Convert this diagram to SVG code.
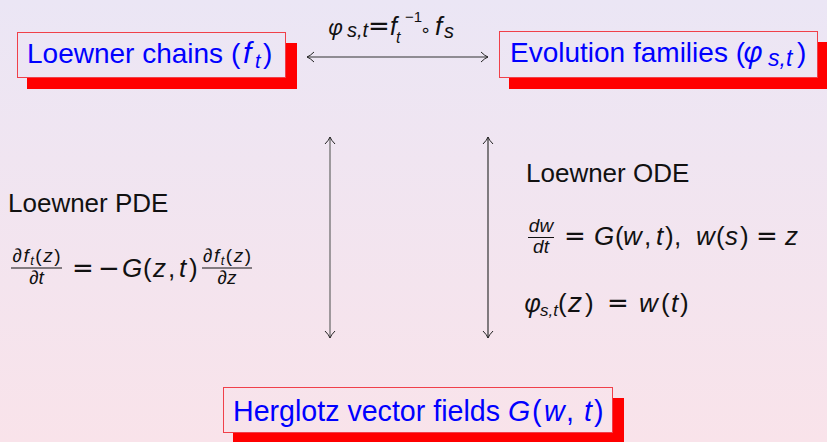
<svg xmlns="http://www.w3.org/2000/svg" width="827" height="442" viewBox="0 0 827 442">
<defs>
<linearGradient id="bg" x1="0" y1="0" x2="0" y2="442" gradientUnits="userSpaceOnUse">
<stop offset="0" stop-color="#EBE6F5"/>
<stop offset="1" stop-color="#F9E3EA"/>
</linearGradient>
<marker id="ah" viewBox="-8 -6 9 12" refX="0" refY="0" markerWidth="9" markerHeight="12" markerUnits="userSpaceOnUse" orient="auto-start-reverse">
<path d="M-7,-5 Q-3,-1 0,0 Q-3,1 -7,5" fill="none" stroke="#222" stroke-width="1"/>
</marker>
<style>
text { font-family: "Liberation Sans", "DejaVu Sans", sans-serif; fill: #111; }
.i { font-style: italic; }
.g { font-family: "Noto Sans", "DejaVu Sans", sans-serif; font-style: italic; }
.op { font-family: "DejaVu Sans", sans-serif; }
.blue { fill: #0000FF; }
.shadow { fill: #FF0000; }
.box { fill: url(#bg); stroke: #F0404A; stroke-width: 1; }
.conn { stroke: #333; stroke-width: 1.2; fill: none; marker-start: url(#ah); marker-end: url(#ah); }
.bar { stroke: #111; stroke-width: 1; }
</style>
</defs>
<rect x="0" y="0" width="827" height="442" fill="url(#bg)"/>

<g id="connectors">
<line class="conn" x1="307" y1="57" x2="488" y2="57"/>
<line class="conn" x1="330" y1="137" x2="330" y2="338" style="stroke:#666"/>
<line class="conn" x1="488" y1="137" x2="488" y2="338"/>
<g id="arrow-label">
<text x="328" y="35" class="g" font-size="22">φ</text>
<text x="347" y="37" class="i" font-size="20">s,t</text>
<text x="368" y="35" class="op" font-size="26">=</text>
<text x="390" y="35" class="i" font-size="25">f</text>
<text x="396" y="43" class="i" font-size="16">t</text>
<text x="405" y="22" font-size="15">−1</text>
<text x="420" y="36" class="op" font-size="18">∘</text>
<text x="435" y="35" class="i" font-size="26">f</text>
<text x="444" y="38" class="i" font-size="20">s</text>
</g>
</g>

<g id="loewner-chains">
<rect class="shadow" x="27" y="43" width="270" height="46"/>
<rect class="box" x="17.5" y="32.5" width="268" height="45"/>
<text class="blue" font-size="28"><tspan x="27" y="63">Loewner chains (</tspan><tspan x="243" class="i" font-size="30">f</tspan><tspan x="255" y="68" class="i" font-size="20">t</tspan><tspan x="263" y="63">)</tspan></text>
</g>

<g id="evolution-families">
<rect class="shadow" x="509" y="42" width="320" height="47"/>
<rect class="box" x="499.5" y="31.5" width="318" height="46"/>
<text class="blue" font-size="28"><tspan x="510" y="62">Evolution families (</tspan></text>
<text x="743" y="62" class="g blue" font-size="29">φ</text>
<text x="768" y="66" class="i blue" font-size="23">s,t</text>
<text x="797" y="62" class="blue" font-size="28">)</text>
</g>

<g id="herglotz">
<rect class="shadow" x="233" y="398" width="391" height="46"/>
<rect class="box" x="223.5" y="387.5" width="389" height="45"/>
<text class="blue" font-size="28.6"><tspan x="233" y="421">Herglotz vector fields</tspan><tspan x="508" class="i">G</tspan><tspan x="532">(</tspan><tspan x="544" class="i">w</tspan><tspan x="566">,</tspan><tspan x="584" class="i">t</tspan><tspan x="594">)</tspan></text>
</g>

<g id="loewner-pde">
<text x="8" y="212" font-size="26">Loewner PDE</text>
<text x="36.5" y="262" font-size="19" text-anchor="middle" textLength="48" lengthAdjust="spacing">∂<tspan class="i">f</tspan><tspan class="i" font-size="13" dy="3">t</tspan><tspan dy="-3">(</tspan><tspan class="i">z</tspan>)</text>
<line class="bar" x1="11" y1="268" x2="62" y2="268"/>
<text x="36.5" y="284" font-size="19" text-anchor="middle">∂<tspan class="i">t</tspan></text>
<text x="72" y="277" class="op" font-size="26">=</text>
<text x="98" y="277" class="op" font-size="26">−</text>
<text font-size="26"><tspan x="122" y="277" class="i">G</tspan><tspan x="143">(</tspan><tspan x="153" class="i">z</tspan><tspan x="168">,</tspan><tspan x="179" class="i">t</tspan><tspan x="189">)</tspan></text>
<text x="227" y="262" font-size="19" text-anchor="middle" textLength="48" lengthAdjust="spacing">∂<tspan class="i">f</tspan><tspan class="i" font-size="13" dy="3">t</tspan><tspan dy="-3">(</tspan><tspan class="i">z</tspan>)</text>
<line class="bar" x1="202" y1="268" x2="252" y2="268"/>
<text x="227" y="284" font-size="19" text-anchor="middle">∂<tspan class="i">z</tspan></text>
</g>

<g id="loewner-ode">
<text x="526" y="182" font-size="26">Loewner ODE</text>
<text x="541" y="232" font-size="19" text-anchor="middle" class="i">dw</text>
<line class="bar" x1="528" y1="237.5" x2="554" y2="237.5"/>
<text x="541" y="253" font-size="19" text-anchor="middle" class="i">dt</text>
<text x="564" y="245" class="op" font-size="26">=</text>
<text font-size="26"><tspan x="594" y="245" class="i">G</tspan><tspan x="615">(</tspan><tspan x="623" class="i">w</tspan><tspan x="644">,</tspan><tspan x="656" class="i">t</tspan><tspan x="665">)</tspan><tspan x="674">,</tspan><tspan x="696" class="i">w</tspan><tspan x="716">(</tspan><tspan x="725" class="i">s</tspan><tspan x="740">)</tspan></text>
<text x="756" y="245" class="op" font-size="26">=</text>
<text x="785" y="245" class="i" font-size="26">z</text>
<text x="524" y="312" class="g" font-size="25">φ</text>
<text x="540" y="316" class="i" font-size="17">s,t</text>
<text font-size="26"><tspan x="558" y="312">(</tspan><tspan x="568" class="i" font-size="28">z</tspan><tspan x="585">)</tspan></text>
<text x="607" y="312" class="op" font-size="26">=</text>
<text font-size="26"><tspan x="639" y="312" class="i">w</tspan><tspan x="661">(</tspan><tspan x="671" class="i">t</tspan><tspan x="680">)</tspan></text>
</g>
</svg>
